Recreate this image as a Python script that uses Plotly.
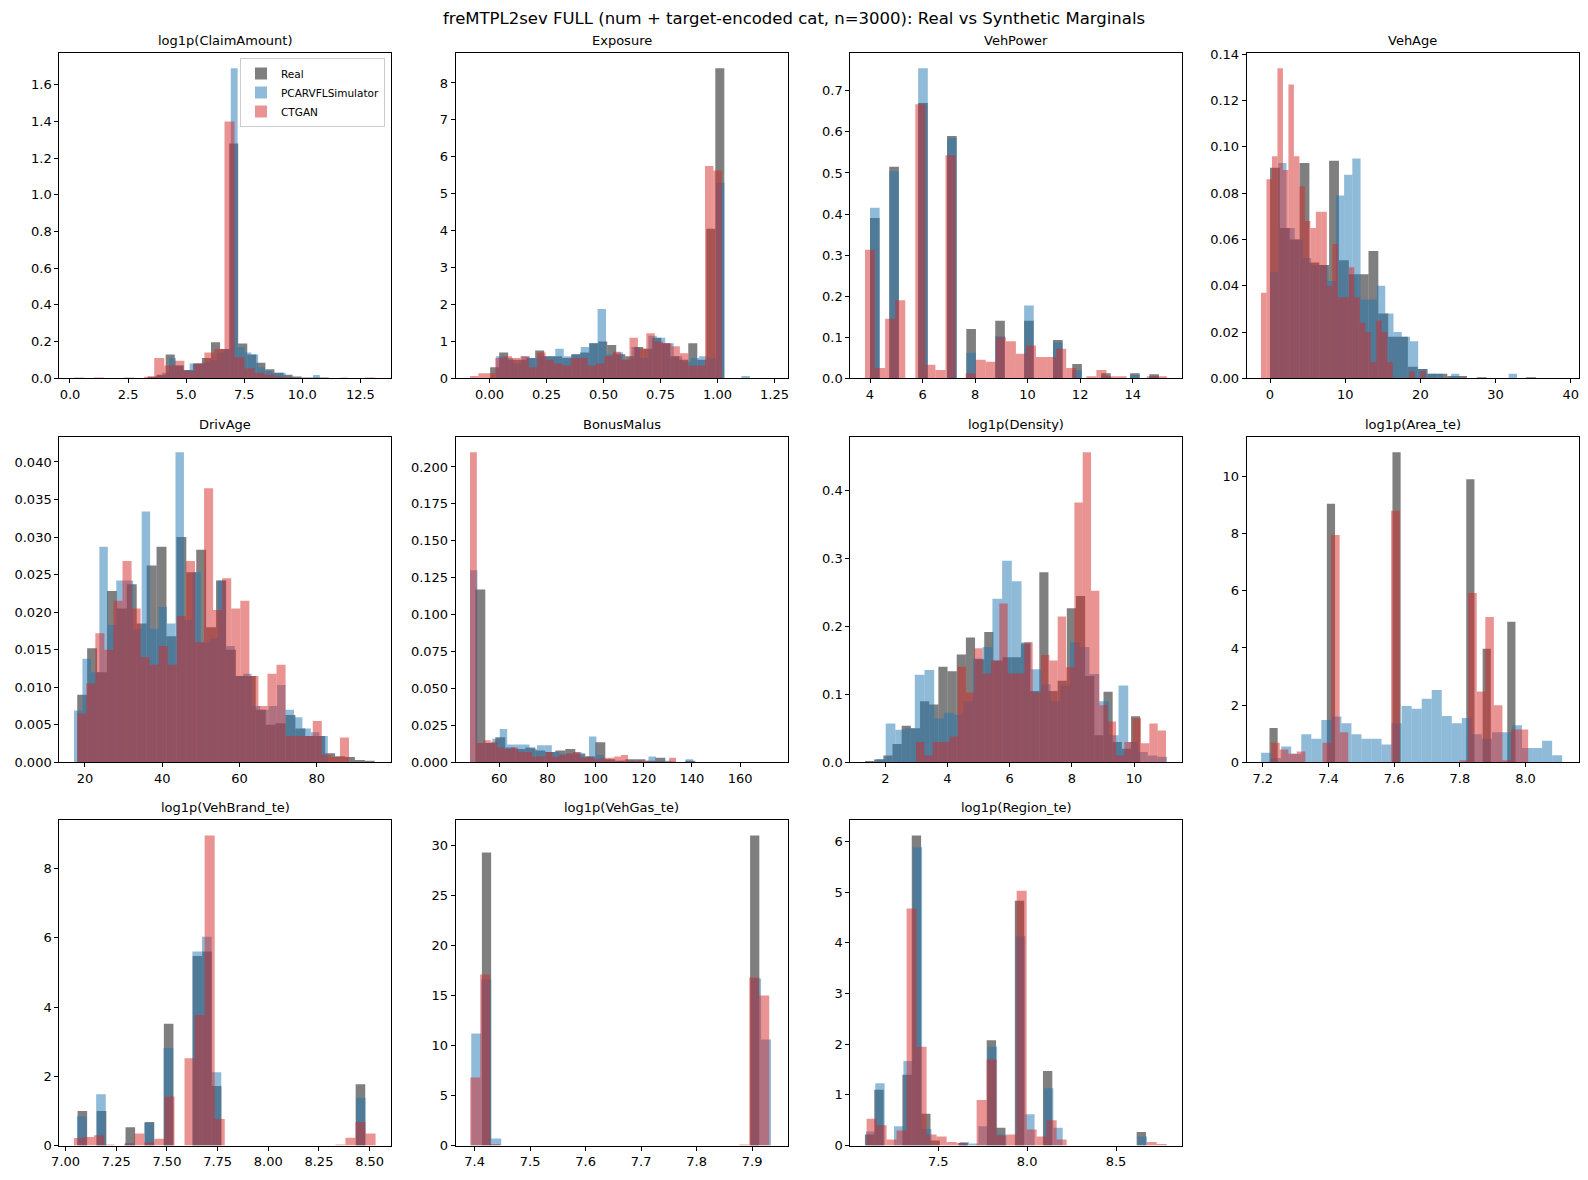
import plotly.graph_objects as go

# Density histograms (3 series per panel).
# For every panel: left bin edge per series, bin width per series, bar heights.
series_names = ['Real', 'PCARVFLSimulator', 'CTGAN']
series_colors = ['rgba(0,0,0,0.5)', 'rgba(31,119,180,0.5)', 'rgba(214,39,40,0.5)']

claim_starts = [3.34, 3.675, 0.17]
claim_widths = [0.39, 0.295, 0.432]
claim_real = [0.01, 0.02, 0.13, 0.07, 0.045, 0.08, 0.11, 0.196, 0.16, 1.28, 0.19, 0.13, 0.085, 0.05,
              0.03, 0.02, 0.01, 0.005, 0.005, 0.005]
claim_pcarvfl = [0.01, 0.03, 0.11, 0.07, 0.045, 0.08, 0.08, 0.09, 0.10, 0.14, 0.16, 1.69, 0.17, 0.14,
                 0.13, 0.06, 0.04, 0.03, 0.03, 0.01, 0.005, 0, 0, 0.018, 0, 0, 0, 0.005]
claim_ctgan = [0.005, 0, 0.004, 0, 0, 0.004, 0, 0.008, 0.11, 0.07, 0.095, 0.04, 0.08, 0.14, 0.16, 1.40,
               0.115, 0.055, 0.03, 0.02, 0.01, 0.005, 0, 0, 0, 0, 0, 0, 0, 0.004]

expo_starts = [0.003, 0.029, -0.085]
expo_widths = [0.0395, 0.0371, 0.0368]
expo_real = [0.3, 0.7, 0.5, 0.5, 0.55, 0.75, 0.6, 0.6, 0.55, 0.65, 0.7, 0.95, 1.0, 0.9, 0.65, 0.6, 0.85,
             0.8, 1.1, 0.95, 0.6, 0.5, 0.95, 0.5, 4.05, 8.4]
expo_pcarvfl = [0.6, 0.55, 0.4, 0.6, 0.55, 0.6, 0.6, 0.8, 0.6, 0.65, 0.85, 0.95, 1.88, 0.65, 0.7, 0.5,
                0.85, 0.55, 1.15, 1.1, 0.95, 0.6, 0.45, 0.55, 0.6, 0.55, 5.3, 0, 0, 0.06]
expo_ctgan = [0.06, 0.14, 0.14, 0.55, 0.6, 0.55, 0.6, 0.3, 0.7, 0.5, 0.4, 0.35, 0.55, 0.55, 0.35, 0.4,
              0.6, 0.72, 0.5, 1.1, 0.8, 1.22, 1.0, 0.95, 0.87, 0.68, 0.35, 0.35, 5.75, 5.63]

power_starts = [4.0, 4.0, 3.81]
power_widths = [0.3667, 0.3667, 0.383]
power_real = [0.39, 0, 0.515, 0, 0, 0.67, 0, 0, 0.59, 0, 0.12, 0, 0, 0.14, 0, 0, 0.14, 0, 0, 0.093, 0,
              0.035, 0, 0, 0.012, 0, 0, 0.012, 0, 0.01]
power_pcarvfl = [0.415, 0, 0.505, 0, 0, 0.755, 0, 0, 0.585, 0, 0.062, 0, 0, 0.103, 0, 0, 0.177, 0, 0,
                 0.088, 0, 0.02, 0, 0, 0.005, 0, 0, 0.008, 0, 0.005]
power_ctgan = [0.313, 0.025, 0.145, 0.19, 0, 0.667, 0.033, 0.02, 0.543, 0, 0.012, 0.045, 0.04, 0.1, 0.09,
               0.06, 0.08, 0.052, 0.052, 0.072, 0.025, 0, 0.005, 0.02, 0.005, 0.005, 0, 0, 0.005, 0.005]

vage_starts = [0.0, 0.0, -1.2]
vage_widths = [1.31, 1.095, 0.73]
vage_real = [0.091, 0.065, 0.06, 0.093, 0.05, 0.049, 0.094, 0.051, 0.045, 0.045, 0.055, 0.028, 0.018,
             0.018, 0.005, 0.004, 0.002, 0.002, 0.001, 0.001, 0, 0.0005, 0, 0, 0, 0, 0.0005, 0, 0, 0]
vage_pcarvfl = [0.046, 0.093, 0.065, 0.06, 0.052, 0.049, 0.049, 0.042, 0.079, 0.088, 0.095, 0.034, 0.034,
                0.04, 0.028, 0.02, 0.018, 0.016, 0.004, 0.002, 0.002, 0, 0.002, 0, 0, 0, 0, 0, 0, 0.002]
vage_ctgan = [0.037, 0.086, 0.096, 0.134, 0.09, 0.127, 0.096, 0.083, 0.068, 0.065, 0.072, 0.072, 0.04,
              0.058, 0.035, 0.035, 0.048, 0.035, 0.024, 0.02, 0.007, 0.025, 0.02, 0.007, 0, 0, 0, 0.003,
              0, 0.003]

dage_starts = [18.0, 17.16, 18.0]
dage_widths = [2.567, 2.19, 2.345]
dage_real = [0.009, 0.0152, 0.012, 0.0228, 0.0205, 0.0237, 0.0185, 0.0262, 0.0287, 0.0168, 0.030, 0.0253,
             0.0283, 0.018, 0.0242, 0.015, 0.0115, 0.0115, 0.007, 0.005, 0.0052, 0.0063, 0.0045, 0.0035,
             0.0035, 0.0012, 0.0008, 0.0007, 0.0003, 0.0002]
dage_pcarvfl = [0.0069, 0.0138, 0.012, 0.0287, 0.0183, 0.0242, 0.0242, 0.0178, 0.0334, 0.0178, 0.0207,
                0.0185, 0.0413, 0.019, 0.0253, 0.016, 0.0165, 0.0242, 0.0155, 0.0115, 0.0118, 0.0075,
                0.007, 0.0075, 0.0103, 0.007, 0.006, 0.0045, 0.004, 0.0035]
dage_ctgan = [0.0065, 0.0105, 0.0172, 0.015, 0.0215, 0.0268, 0.0205, 0.014, 0.013, 0.0155, 0.013, 0.0195,
              0.0268, 0.016, 0.0365, 0.0203, 0.0245, 0.0205, 0.0215, 0.0115, 0.0075, 0.0118, 0.013,
              0.0035, 0.0035, 0.0035, 0.0055, 0.001, 0.0007, 0.0033]

bm_starts = [50.0, 47.8, 47.8]
bm_widths = [4.155, 3.09, 2.853]
bm_real = [0.117, 0.013, 0.017, 0.010, 0.009, 0.010, 0.008, 0.007, 0.008, 0.009, 0.006, 0.004, 0.0135,
           0.002, 0.001, 0.002, 0.002, 0.001, 0.003, 0.0005, 0, 0.001, 0, 0, 0, 0, 0, 0, 0, 0]
bm_pcarvfl = [0.13, 0.013, 0.013, 0.016, 0.0225, 0.012, 0.012, 0.012, 0.009, 0.0115, 0.0115, 0.007, 0.006,
              0.006, 0.007, 0.004, 0.0175, 0.005, 0.002, 0, 0.001, 0.001, 0.001, 0, 0.004, 0.001, 0.001,
              0, 0, 0.002]
bm_ctgan = [0.21, 0.013, 0.015, 0.014, 0.010, 0.009, 0.010, 0.007, 0.007, 0.004, 0.004, 0.007, 0.004,
            0.005, 0.006, 0.007, 0.003, 0.004, 0.002, 0.003, 0.003, 0.004, 0.005, 0.001, 0.001, 0.001,
            0.0005, 0.0005, 0, 0.003]

dens_starts = [1.346, 1.70, 2.987]
dens_widths = [0.295, 0.312, 0.268]
dens_real = [0.002, 0.004, 0.01, 0.027, 0.054, 0.05, 0.09, 0.085, 0.141, 0.134, 0.159, 0.184, 0.152, 0.192,
             0.15, 0.155, 0.155, 0.175, 0.105, 0.28, 0.105, 0.12, 0.227, 0.245, 0.127, 0.04, 0.104, 0.03,
             0.02, 0.068]
dens_pcarvfl = [0.005, 0.057, 0.048, 0.05, 0.129, 0.136, 0.065, 0.073, 0.07, 0.09, 0.153, 0.17, 0.241,
                0.297, 0.267, 0.177, 0.137, 0.115, 0.09, 0.113, 0.177, 0.17, 0.13, 0.09, 0.04, 0.113, 0.03,
                0.015, 0.01, 0.008]
dens_ctgan = [0.03, 0.01, 0.03, 0.03, 0.038, 0.141, 0.103, 0.168, 0.131, 0.15, 0.234, 0.131, 0.131, 0.177,
              0.103, 0.158, 0.15, 0.215, 0.14, 0.383, 0.457, 0.253, 0.084, 0.06, 0.01, 0.03, 0.065, 0.028,
              0.057, 0.047]

area_starts = [7.2203, 7.1949, 7.2254]
area_widths = [0.02497, 0.03056, 0.02609]
area_real = [1.2, 0, 0, 0, 0, 0, 0, 9.05, 0, 0, 0, 0, 0, 0, 0, 10.85, 0, 0, 0, 0, 0, 0, 0, 0, 9.9, 0,
             3.97, 0, 0, 4.92]
area_pcarvfl = [0.33, 0.15, 0.55, 0.3, 0.98, 0.82, 1.48, 1.6, 1.37, 0.98, 0.82, 0.82, 0.62, 1.37, 1.97,
                1.87, 2.22, 2.53, 1.62, 1.37, 1.55, 0.98, 0.82, 1.05, 1.05, 1.3, 0.5, 0.5, 0.75, 0.25]
area_ctgan = [0.68, 0.45, 0.3, 0.38, 0, 0, 0.68, 7.95, 1.05, 0, 0, 0, 0, 0, 8.8, 0, 0, 0, 0, 0, 0, 0,
              0.07, 5.92, 2.48, 5.08, 2.0, 0.07, 1.15, 1.15]

brand_starts = [7.0591, 7.0559, 7.0411]
brand_widths = [0.04731, 0.04748, 0.04961]
brand_real = [1.0, 0, 1.0, 0, 0, 0.53, 0, 0.68, 0, 3.52, 0, 0, 5.47, 5.6, 1.72, 0, 0, 0, 0, 0, 0, 0, 0,
              0, 0, 0, 0, 0, 0, 1.77]
brand_pcarvfl = [0.85, 0, 1.48, 0, 0, 0.08, 0, 0.65, 0, 2.82, 0, 0, 5.6, 6.03, 2.12, 0, 0, 0, 0, 0, 0, 0,
                 0, 0, 0, 0, 0, 0, 0, 1.38]
brand_ctgan = [0.22, 0.25, 0.3, 0.03, 0, 0.05, 0.35, 0.1, 0.2, 1.42, 0, 2.52, 3.77, 8.95, 0.77, 0, 0, 0,
               0, 0, 0, 0, 0, 0, 0, 0, 0.03, 0.23, 0.68, 0.35]

gas_starts = [7.4132, 7.394, 7.3922]
gas_widths = [0.016657, 0.018, 0.01795]
gas_real = [29.3] + [0] * 28 + [31.0]
gas_pcarvfl = [11.2, 16.6, 0.7] + [0] * 25 + [16.7, 10.6]
gas_ctgan = [6.8, 17.1, 0.15] + [0] * 24 + [0.12, 16.8, 15.0]

region_starts = [7.0872, 7.0929, 7.0966]
region_widths = [0.05272, 0.05272, 0.05629]
region_real = [0.22, 1.1, 0, 0, 1.4, 6.12, 0.63, 0.1, 0, 0, 0.05, 0, 0, 2.08, 0.35, 0, 4.83, 0, 0, 1.47,
               0, 0, 0, 0, 0, 0, 0, 0, 0, 0.27]
region_pcarvfl = [0.28, 1.23, 0, 0.38, 1.67, 5.89, 0.33, 0, 0, 0, 0.07, 0.04, 0.38, 1.95, 0.22, 0, 4.13,
                  0.62, 0, 1.13, 0.35, 0, 0, 0, 0, 0, 0, 0, 0, 0.18]
region_ctgan = [0.53, 0.4, 0.12, 0.3, 4.68, 1.95, 0.22, 0.18, 0.07, 0.05, 0, 0.9, 1.7, 0.2, 0.22, 5.03,
                0.32, 0.18, 0.5, 0.12, 0, 0, 0, 0, 0, 0, 0, 0, 0.07, 0.03]

panels = [
    ('log1p(ClaimAmount)', claim_starts, claim_widths, [claim_real, claim_pcarvfl, claim_ctgan]),
    ('Exposure', expo_starts, expo_widths, [expo_real, expo_pcarvfl, expo_ctgan]),
    ('VehPower', power_starts, power_widths, [power_real, power_pcarvfl, power_ctgan]),
    ('VehAge', vage_starts, vage_widths, [vage_real, vage_pcarvfl, vage_ctgan]),
    ('DrivAge', dage_starts, dage_widths, [dage_real, dage_pcarvfl, dage_ctgan]),
    ('BonusMalus', bm_starts, bm_widths, [bm_real, bm_pcarvfl, bm_ctgan]),
    ('log1p(Density)', dens_starts, dens_widths, [dens_real, dens_pcarvfl, dens_ctgan]),
    ('log1p(Area_te)', area_starts, area_widths, [area_real, area_pcarvfl, area_ctgan]),
    ('log1p(VehBrand_te)', brand_starts, brand_widths, [brand_real, brand_pcarvfl, brand_ctgan]),
    ('log1p(VehGas_te)', gas_starts, gas_widths, [gas_real, gas_pcarvfl, gas_ctgan]),
    ('log1p(Region_te)', region_starts, region_widths, [region_real, region_pcarvfl, region_ctgan]),
]

# axis view limits and tick steps (layout, not data)
x_ranges = [(-0.46, 13.83), (-0.148, 1.308), (3.25, 15.89), (-3.10, 41.06), (13.36, 99.3),
            (41.86, 179.8), (0.874, 11.55), (7.151, 8.162), (6.969, 8.607), (7.366, 7.964),
            (7.005, 8.873)]
x_ticks = [(2.5, '.1f'), (0.25, '.2f'), (2, 'd'), (10, 'd'), (20, 'd'), (20, 'd'), (2, 'd'),
           (0.2, '.1f'), (0.25, '.2f'), (0.1, '.1f'), (0.5, '.1f')]
y_ticks = [(0.2, '.1f'), (1, 'd'), (0.1, '.1f'), (0.02, '.2f'), (0.005, '.3f'), (0.025, '.3f'),
           (0.1, '.1f'), (2, 'd'), (2, 'd'), (5, 'd'), (1, 'd')]

W, H = 1588, 1180
col_left = [59.3, 455.7, 850.3, 1246.7]
row_top = [52.7, 436.7, 820.0]
ax_w, ax_h = 332.0, 325.6

FONT = 'DejaVu Sans'
fig = go.Figure()
annotations = []
layout_axes = {}

for i, (title, starts, widths, series) in enumerate(panels):
    sfx = '' if i == 0 else str(i + 1)
    r, c = divmod(i, 4)
    for s, heights in enumerate(series):
        w = widths[s]
        centers = [starts[s] + w * (k + 0.5) for k in range(len(heights))]
        fig.add_trace(go.Bar(
            x=centers, y=heights, width=w,
            marker=dict(color=series_colors[s], line=dict(width=0)),
            name=series_names[s], legendgroup=series_names[s], showlegend=(i == 0),
            xaxis='x' + sfx, yaxis='y' + sfx,
        ))
    ymax = max(max(h) for h in series) * 1.05
    x0 = col_left[c] / W
    x1 = (col_left[c] + ax_w) / W
    y1 = 1 - row_top[r] / H
    y0 = 1 - (row_top[r] + ax_h) / H
    common = dict(showline=True, mirror=True, linecolor='black', linewidth=1, ticks='outside',
                  ticklen=4, tickcolor='black', showgrid=False, zeroline=False, automargin=False,
                  tickfont=dict(family=FONT, size=13, color='black'))
    layout_axes['xaxis' + sfx] = dict(domain=[x0, x1], anchor='y' + sfx, range=list(x_ranges[i]),
                                      tick0=0, dtick=x_ticks[i][0], tickformat=x_ticks[i][1], **common)
    layout_axes['yaxis' + sfx] = dict(domain=[y0, y1], anchor='x' + sfx, range=[0, ymax],
                                      tick0=0, dtick=y_ticks[i][0], tickformat=y_ticks[i][1], **common)
    annotations.append(dict(text=title, x=(x0 + x1) / 2, y=y1, xref='paper', yref='paper',
                            xanchor='center', yanchor='bottom', yshift=3, showarrow=False,
                            font=dict(family=FONT, size=13, color='black')))

fig.update_layout(
    width=W, height=H,
    margin=dict(l=0, r=0, t=0, b=0, pad=0, autoexpand=False),
    paper_bgcolor='white', plot_bgcolor='white',
    barmode='overlay',
    font=dict(family=FONT, color='black'),
    title=dict(text='freMTPL2sev FULL (num + target-encoded cat, n=3000): Real vs Synthetic Marginals',
               x=0.5, xanchor='center', y=1 - 18 / H, yanchor='middle', automargin=False,
               font=dict(family=FONT, size=16.5, color='black')),
    legend=dict(x=385 / W, xanchor='right', y=1 - 58 / H, yanchor='top',
                bgcolor='rgba(255,255,255,0.8)', bordercolor='#cccccc', borderwidth=1,
                font=dict(family=FONT, size=10.5, color='black'), tracegroupgap=0),
    annotations=annotations,
    **layout_axes,
)

# drop the default page margin so the figure sits at the window's top-left corner
fig.write_html('out.html', config={'displayModeBar': False},
               post_script="document.body.style.margin='0';")
